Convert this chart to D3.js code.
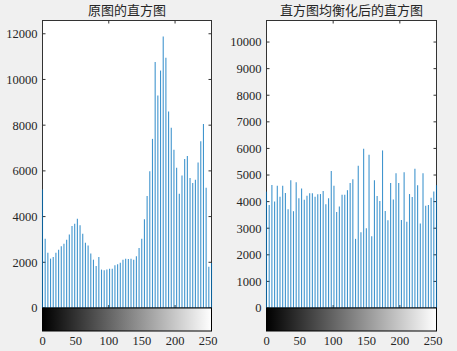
<!DOCTYPE html>
<html>
<head>
<meta charset="utf-8">
<script src="https://cdn.jsdelivr.net/npm/d3@7"></script>
<style>
html,body{margin:0;padding:0;background:#f0f0f0;}
svg{display:block;}
</style>
</head>
<body>
<div id="chart"></div>
<script>

// 원본 / 균일화 히스토그램 (64 bins, 0~255)
var binCount = 64;
var binLevels = d3.range(binCount).map(function(i){ return i*255/(binCount-1); });

var originalCounts = [5190, 3030, 2420, 2160, 2230, 2420, 2550, 2700, 2815, 2990,
	3220, 3590, 3690, 3910, 3620, 3250, 2860, 2740, 2380, 2115,
	1840, 2230, 1680, 1650, 1690, 1720, 1720, 1870, 1910, 1985,
	2115, 2160, 2140, 2160, 2115, 2260, 2625, 3030, 3880, 4900,
	5980, 7400, 10760, 9300, 10390, 11880, 10950, 8600, 7890, 6925,
	6140, 5000, 5800, 6520, 6650, 5690, 5470, 5610, 6370, 7300,
	8050, 5265, 1800, 1970];

var equalizedCounts = [4375, 3875, 4625, 4000, 4600, 4180, 4600, 4320, 3710, 4800,
	3640, 4730, 4125, 4490, 4070, 4220, 4310, 4310, 4180, 4280,
	4285, 4395, 3900, 4125, 5150, 4595, 3605, 3815, 4255, 4255,
	4430, 4700, 4840, 2600, 5350, 2850, 5990, 3000, 5760, 2700,
	4800, 4210, 4025, 5925, 3650, 3300, 4700, 4080, 5070, 4700,
	3310, 5100, 3240, 4285, 4170, 5235, 4615, 3180, 5070, 3845,
	3870, 4150, 4380, 4620];

var titles = ["原图的直方图", "直方图均衡化后的直方图"];
var yLimits = [12580, 10810];
var yTicksLeft = [0, 2000, 4000, 6000, 8000, 10000, 12000];
var yTicksRight = [0, 1000, 2000, 3000, 4000, 5000, 6000, 7000, 8000, 9000, 10000];
var xTickLabels = [0, 50, 100, 150, 200, 250];
var xTicksBox = [0, 100, 200];

var W = 457, H = 351;
var axisColor = "#333333";
var stemColor = "#0072bd";
var numFont = "'Liberation Serif','Times New Roman',serif";
var cjkFont = "'Noto Sans CJK SC','Noto Sans CJK JP',sans-serif";

var svg = d3.select("#chart").append("svg")
	.attr("width", W)
	.attr("height", H);

svg.append("rect")
	.attr("width", W).attr("height", H)
	.style("fill", "#f0f0f0");

// 그레이 컬러바용 그라디언트
var grad = svg.append("defs").append("linearGradient")
	.attr("id", "grayBar")
	.attr("x1", "0%").attr("y1", "0%")
	.attr("x2", "100%").attr("y2", "0%");
grad.append("stop").attr("offset", "0").attr("stop-color", "#000000");
grad.append("stop").attr("offset", "1").attr("stop-color", "#ffffff");

function drawPanel(p){
	var x = d3.scaleLinear().domain([0, 255]).range([p.left, p.right]);
	var y = d3.scaleLinear().domain([0, p.yMax]).range([p.bottom, p.top]);

	var g = svg.append("g").attr("class", "panel");

	// 축 배경
	g.append("rect")
		.attr("x", p.left).attr("y", p.top)
		.attr("width", p.right-p.left).attr("height", p.bottom-p.top)
		.style("fill", "#ffffff")
		.style("stroke", axisColor)
		.style("stroke-width", 1);

	// 안쪽 눈금 (y)
	g.selectAll(".yTickL").data(p.yTicks).enter().append("line")
		.attr("x1", p.left).attr("x2", p.left+3)
		.attr("y1", function(d){ return y(d); })
		.attr("y2", function(d){ return y(d); })
		.style("stroke", axisColor);
	g.selectAll(".yTickR").data(p.yTicks).enter().append("line")
		.attr("x1", p.right).attr("x2", p.right-3)
		.attr("y1", function(d){ return y(d); })
		.attr("y2", function(d){ return y(d); })
		.style("stroke", axisColor);

	// 안쪽 눈금 (x)
	g.selectAll(".xTickT").data(xTicksBox).enter().append("line")
		.attr("x1", function(d){ return x(d); })
		.attr("x2", function(d){ return x(d); })
		.attr("y1", p.top).attr("y2", p.top+3)
		.style("stroke", axisColor);
	g.selectAll(".xTickB").data(xTicksBox).enter().append("line")
		.attr("x1", function(d){ return x(d); })
		.attr("x2", function(d){ return x(d); })
		.attr("y1", p.bottom).attr("y2", p.bottom-3)
		.style("stroke", axisColor);

	// y 라벨
	g.selectAll(".yLabel").data(p.yTicks).enter().append("text")
		.attr("x", p.left-5)
		.attr("y", function(d){ return y(d); })
		.attr("dy", "0.35em")
		.attr("text-anchor", "end")
		.style("font-family", numFont)
		.style("font-size", "12.5px")
		.style("fill", "#262626")
		.text(function(d){ return d; });

	// stem
	g.selectAll(".stem").data(p.counts).enter().append("line")
		.attr("class", "stem")
		.attr("x1", function(d, i){ return x(binLevels[i]); })
		.attr("x2", function(d, i){ return x(binLevels[i]); })
		.attr("y1", y(0))
		.attr("y2", function(d){ return y(d); })
		.style("stroke", stemColor)
		.style("stroke-width", 1.1)
		.style("stroke-opacity", 0.75);

	// 컬러바
	g.append("rect")
		.attr("x", p.left).attr("y", p.bottom)
		.attr("width", p.right-p.left).attr("height", p.barH)
		.style("fill", "url(#grayBar)")
		.style("stroke", "#000000")
		.style("stroke-width", 1);

	g.selectAll(".xLabel").data(xTickLabels).enter().append("text")
		.attr("x", function(d){ return x(d); })
		.attr("y", p.bottom+p.barH+14)
		.attr("text-anchor", "middle")
		.style("font-family", numFont)
		.style("font-size", "12.5px")
		.style("fill", "#262626")
		.text(function(d){ return d; });

	// 제목
	g.append("text")
		.attr("x", (p.left+p.right)/2)
		.attr("y", 15)
		.attr("text-anchor", "middle")
		.style("font-family", cjkFont)
		.style("font-size", "13px")
		.style("fill", "#262626")
		.text(p.title);
}

drawPanel({left:42.5, right:211.5, top:20.5, bottom:308, barH:23,
	yMax:yLimits[0], yTicks:yTicksLeft, counts:originalCounts, title:titles[0]});
drawPanel({left:266.5, right:436.5, top:20.5, bottom:308, barH:23,
	yMax:yLimits[1], yTicks:yTicksRight, counts:equalizedCounts, title:titles[1]});

</script>
</body>
</html>
